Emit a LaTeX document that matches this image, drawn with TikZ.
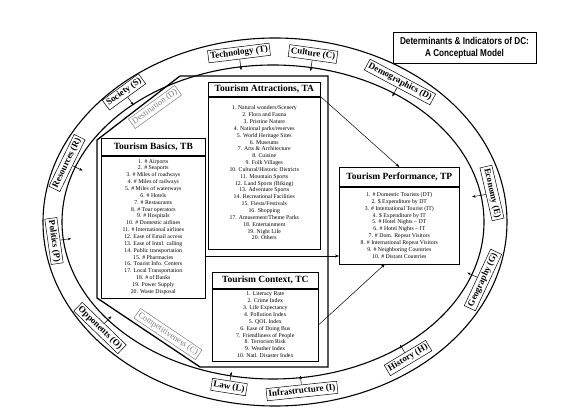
\documentclass[tikz,border=0pt]{standalone}
\usepackage{fontspec}
\setmainfont{Liberation Serif}
\newfontfamily\narrowsans[FakeStretch=0.82]{Liberation Sans}
\usetikzlibrary{arrows.meta,calc}
\begin{document}
\begin{tikzpicture}[x=1pt,y=-1pt,
  ring/.style={line width=1.1pt},
  frameline/.style={line width=1.3pt, line join=miter},
  boxline/.style={draw, line width=0.6pt},
  ttl/.style={boxline, font=\fontsize{9.5}{11}\selectfont\bfseries, inner sep=1pt, anchor=north west},
  lst/.style={boxline, font=\fontsize{5.8}{6.85}\selectfont, align=center, inner sep=1pt, anchor=north west},
  rlab/.style={draw, fill=white, line width=0.5pt, font=\fontsize{9}{10}\selectfont\bfseries, inner sep=2pt},
  glab/.style={draw=gray, text=gray, line width=0.5pt, font=\fontsize{8.5}{10}\selectfont, inner sep=2pt},
  sarr/.style={-{Stealth[length=3.5pt,width=2.6pt]}, line width=0.5pt},
  marr/.style={-{Stealth[length=4pt,width=3pt]}, line width=0.5pt},
]
\fill[white] (0,0) rectangle (566,414);
\useasboundingbox (0,0) rectangle (566,414);

% rings
\draw[ring] (275,222) ellipse [x radius=232pt, y radius=184pt];
\draw[ring] (273,222) ellipse [x radius=211pt, y radius=157pt];

% destination competitiveness frame
\draw[frameline] (97,140) -- (180,76) -- (328,76) -- (328,367) -- (200,367) -- (97,298) -- cycle;

% Tourism Basics
\node[ttl, minimum width=104pt, minimum height=17pt] (tbT) at (101,138) {Tourism Basics, TB};
\node[lst, minimum width=104pt, minimum height=142pt] (tb) at (tbT.south west) {%
1. \# Airports\\2. \# Seaports\\3. \# Miles of roadways\\4. \# Miles of railways\\5. \# Miles of waterways\\%
6. \# Hotels\\7. \# Restaurants\\8. \# Tour operators\\9. \# Hospitals\\10. \# Domestic airlines\\%
11. \# International airlines\\12. Ease of Email access\\13. Ease of Intnl. calling\\14. Public transportation\\%
15. \# Pharmacies\\16. Tourist Info. Centers\\17. Local Transportation\\18. \# of Banks\\19. Power Supply\\20. Waste Disposal};

% Tourism Attractions
\node[ttl, minimum width=112pt, minimum height=14pt] (taT) at (208,82) {Tourism Attractions, TA};
\node[lst, minimum width=112pt, minimum height=152pt] (ta) at (taT.south west) {%
1. Natural wonders/Scenery\\2. Flora and Fauna\\3. Pristine Nature\\4. National parks/reserves\\5. World Heritage Sites\\%
6. Museums\\7. Arts \& Architecture\\8. Cuisine\\9. Folk Villages\\10. Cultural/Historic Districts\\%
11. Mountain Sports\\12. Land Sports (Biking)\\13. Adventure Sports\\14. Recreational Facilities\\15. Fiesta/Festivals\\%
16. Shopping\\17. Amusement/Theme Parks\\18. Entertainment\\19. Night Life\\20. Others};

% Tourism Context
\node[ttl, minimum width=106pt, minimum height=16pt] (tcT) at (212,272) {Tourism Context, TC};
\node[lst, minimum width=106pt, minimum height=72pt] (tc) at (tcT.south west) {%
1. Literacy Rate\\2. Crime Index\\3. Life Expectancy\\4. Pollution Index\\5. QOL Index\\%
6. Ease of Doing Bus\\7. Friendliness of People\\8. Terrorism Risk\\9. Weather Index\\10. Natl. Disaster Index};

% Tourism Performance
\node[ttl, minimum width=120pt, minimum height=19pt] (tpT) at (339,167) {Tourism Performance, TP};
\node[lst, minimum width=120pt, minimum height=77pt] (tp) at (tpT.south west) {%
1. \# Domestic Tourists (DT)\\2. \$ Expenditure by DT\\3. \# International Tourist (IT)\\4. \$ Expenditure by IT\\%
5. \# Hotel Nights -- DT\\6. \# Hotel Nights -- IT\\7. \# Dom. Repeat Visitors\\8. \# International Repeat Visitors\\%
9. \# Neighboring Countries\\10. \# Distant Countries};

% main connectors
\coordinate (hline) at (0,256);
\draw[marr] (taT.south east) -- (tpT.north);
\draw[marr] (tb.east |- hline) -- (tp.west |- hline);
\draw[marr] (tc.east) -- ($(tp.south west)!0.38!(tp.south east)$);

% gray labels
\node[glab, rotate=36] (dest) at (155,107) {Destination (D)};
\node[glab, rotate=-34] (comp) at (168,334) {Competitiveness (C)};

% ring labels
\node[rlab, rotate=7]   (tech) at (239,53)  {Technology (T)};
\node[rlab, rotate=-8]  (cult) at (313,54)  {Culture (C)};
\node[rlab, rotate=-28] (demo) at (400,82)  {Demographics (D)};
\node[rlab, rotate=36]  (soc)  at (124,92)  {Society (S)};
\node[rlab, rotate=64]  (res)  at (67,163)  {Resources (R)};
\node[rlab, rotate=-82] (pol)  at (54,241)  {Politics (P)};
\node[rlab, rotate=-44] (opp)  at (100,328) {Opponents (O)};
\node[rlab, rotate=-9]  (law)  at (229,387) {Law (L)};
\node[rlab, rotate=6]   (infra) at (302,391) {Infrastructure (I)};
\node[rlab, rotate=31]  (hist) at (408,358) {History (H)};
\node[rlab, rotate=65]  (geo)  at (483,280) {Geography (G)};
\node[rlab, rotate=-77] (eco)  at (492,193) {Economy (E)};

% short arrows
\path (tech.south) ++(-83:11pt) coordinate (techE);
\path (cult.south) ++(-98:11pt) coordinate (cultE);
\path (demo.south) ++(-118:10pt) coordinate (demoE);
\path (soc.south) ++(-54:10pt) coordinate (socE);
\path (res.south) ++(-26:11pt) coordinate (resE);
\path (pol.north) ++(8:11pt) coordinate (polE);
\path (opp.north) ++(46:10pt) coordinate (oppE);
\path (law.north) ++(81:9pt) coordinate (lawE);
\path (infra.north) ++(96:9pt) coordinate (infraE);
\path (hist.north) ++(121:9pt) coordinate (histE);
\path (geo.north) ++(155:11pt) coordinate (geoE);
\path (eco.south) ++(-170:14pt) coordinate (ecoE);
\foreach \n in {tech,cult,soc,res,demo}{\draw[sarr] (\n.south) -- (\n E);}
\foreach \n in {pol,opp,law,infra,hist,geo}{\draw[sarr] (\n.north) -- (\n E);}
\draw[sarr] (eco.south) -- (ecoE);

% title
\node[draw, line width=0.8pt, minimum width=143pt, minimum height=31pt, inner sep=2pt,
  font=\narrowsans\bfseries\fontsize{10}{12}\selectfont, align=center] (title) at (464.5,47.5)
  {Determinants \& Indicators of DC:\\A Conceptual Model};
\end{tikzpicture}
\end{document}
